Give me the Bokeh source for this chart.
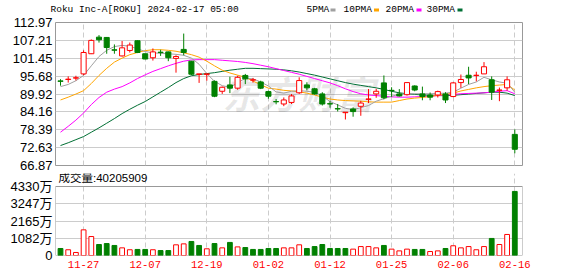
from bokeh.plotting import figure
from bokeh.layouts import column
from bokeh.models import ColumnDataSource, FixedTicker, Range1d
from bokeh.core.properties import value
from bokeh.embed import file_html
from bokeh.resources import INLINE

# ---------------- data ----------------
dates = ["11-21", "11-22", "11-24", "11-27", "11-28", "11-29", "11-30", "12-01", "12-04", "12-05",
         "12-06", "12-07", "12-08", "12-11", "12-12", "12-13", "12-14", "12-15", "12-18", "12-19",
         "12-20", "12-21", "12-22", "12-26", "12-27", "12-28", "12-29", "01-02", "01-03", "01-04",
         "01-05", "01-08", "01-09", "01-10", "01-11", "01-12", "01-16", "01-17", "01-18", "01-19",
         "01-22", "01-23", "01-24", "01-25", "01-26", "01-29", "01-30", "01-31", "02-01", "02-02",
         "02-05", "02-06", "02-07", "02-08", "02-09", "02-12", "02-13", "02-14", "02-15", "02-16"]

open_ = [94.15, 94.6, 95.05, 96.4, 102.9, 108.25, 108.15, 104.15, 102.2, 103.95,
         107.1, 102.9, 101.6, 103.4, 103.5, 101.4, 104.3, 100.5, 96.25, 96.25,
         94.0, 90.8, 92.85, 91.8, 95.9, 94.4, 93.8, 90.7, 87.5, 86.7,
         87.2, 90.3, 92.85, 91.6, 89.95, 86.8, 85.2, 83.9, 85.1, 85.95,
         88.2, 89.95, 93.5, 91.1, 89.95, 89.7, 92.5, 89.95, 89.6, 89.6,
         89.95, 89.1, 93.6, 95.96, 95.9, 96.4, 94.5, 91.1, 91.9, 76.9]
high = [94.7, 95.6, 95.8, 104.0, 107.5, 108.9, 108.3, 105.9, 107.0, 106.5,
        107.2, 102.9, 104.6, 104.2, 103.6, 102.4, 109.4, 100.6, 96.4, 96.4,
        94.3, 92.3, 95.5, 95.8, 96.4, 95.1, 94.2, 91.0, 88.3, 88.8,
        89.9, 95.3, 93.7, 91.9, 90.5, 87.6, 86.7, 84.05, 85.6, 87.7,
        91.5, 91.6, 95.9, 92.1, 91.5, 93.6, 92.7, 92.3, 90.4, 91.0,
        90.5, 93.7, 96.2, 98.7, 97.1, 100.2, 95.6, 92.0, 95.6, 78.5]
low = [92.6, 93.6, 94.3, 96.0, 102.8, 106.5, 102.9, 102.9, 102.0, 103.3,
       103.1, 101.1, 100.7, 102.2, 100.5, 96.8, 102.4, 96.0, 93.5, 94.2,
       88.9, 89.95, 90.2, 91.3, 93.1, 93.6, 91.5, 88.4, 86.6, 86.0,
       86.7, 89.95, 91.1, 89.7, 86.2, 85.5, 84.3, 81.7, 82.6, 82.9,
       87.0, 88.7, 88.2, 89.0, 89.1, 89.4, 90.8, 87.9, 87.9, 88.8,
       87.0, 88.9, 91.9, 93.1, 94.0, 96.4, 88.0, 87.6, 91.0, 70.8]
close = [94.0, 94.7, 95.15, 103.3, 107.2, 107.4, 104.9, 104.05, 104.8, 105.7,
         103.3, 101.2, 103.5, 103.3, 101.6, 102.0, 103.3, 96.3, 96.4, 96.4,
         89.2, 92.1, 91.8, 95.3, 94.8, 94.5, 91.8, 89.2, 87.4, 88.0,
         89.3, 94.25, 91.9, 89.95, 86.7, 86.7, 85.1, 84.05, 84.25, 87.0,
         88.3, 90.8, 88.7, 91.0, 89.3, 93.6, 91.2, 89.1, 88.9, 90.7,
         88.0, 93.5, 94.6, 95.1, 95.96, 98.7, 90.5, 91.2, 94.5, 72.1]

ma5 = [92.3, 93.0, 94.2, 95.9, 99.0, 102.0, 104.0, 105.2, 105.6, 105.3,
       104.5, 103.6, 103.2, 103.0, 102.9, 102.7, 102.4, 101.5, 99.5, 96.5,
       94.0, 92.6, 92.1, 93.5, 95.0, 94.8, 93.8, 92.5, 90.6, 90.2,
       90.8, 91.0, 90.8, 90.5, 89.3, 87.5, 86.4, 85.3, 84.9, 85.5,
       86.2, 87.6, 88.4, 89.2, 89.8, 90.0, 90.0, 90.0, 90.0, 90.1,
       90.2, 90.5, 91.8, 93.0, 93.8, 95.3, 94.5, 93.8, 93.4, 90.5]
ma10 = [88.0, 88.9, 89.9, 91.0, 93.3, 95.9, 98.2, 100.2, 101.5, 102.6,
        103.3, 103.9, 104.2, 104.2, 104.0, 103.7, 103.2, 102.6, 101.8, 100.5,
        99.0, 97.6, 96.7, 96.0, 95.3, 94.1, 92.9, 91.8, 91.5, 91.1,
        90.9, 90.6, 90.2, 89.6, 88.9, 88.3, 88.0, 87.8, 87.7, 87.6,
        87.4, 87.3, 87.3, 87.3, 87.8, 88.3, 88.6, 88.8, 89.1, 89.5,
        89.8, 90.2, 90.9, 91.4, 91.9, 92.3, 92.6, 92.8, 93.0, 91.2]
ma20 = [77.6, 79.5, 81.5, 83.8, 86.5, 88.8, 90.5, 91.5, 92.3, 93.5,
        94.9, 96.1, 97.2, 98.1, 99.0, 99.8, 100.5, 100.9, 101.0, 101.0,
        101.0, 100.8, 100.6, 100.4, 100.1, 99.7, 99.2, 98.7, 98.1, 97.5,
        96.9, 96.3, 95.6, 94.9, 94.2, 93.5, 92.6, 91.6, 90.7, 90.0,
        89.6, 89.4, 89.2, 89.0, 88.9, 88.9, 89.0, 89.1, 89.2, 89.4,
        89.6, 89.8, 90.0, 90.1, 90.2, 90.3, 90.5, 90.8, 91.0, 90.0]
ma30 = [73.3, 74.2, 75.2, 76.2, 77.6, 79.0, 80.5, 82.0, 83.6, 85.0,
        86.3, 87.5, 89.0, 90.5, 92.0, 93.6, 94.9, 95.8, 96.2, 96.5,
        96.8, 97.2, 97.6, 97.9, 98.2, 98.2, 98.1, 98.0, 97.9, 97.7,
        97.4, 97.0, 96.5, 96.0, 95.4, 94.8, 94.2, 93.6, 93.1, 92.7,
        92.3, 91.9, 91.4, 90.8, 90.3, 90.0, 89.8, 89.6, 89.5, 89.4,
        89.4, 89.5, 89.7, 89.9, 90.1, 90.3, 90.5, 90.5, 90.2, 89.4]

# volume in units of 万 (10,000 shares)
volume = [440, 360, 190, 1610, 1190, 690, 750, 630, 480, 360,
          380, 380, 360, 310, 310, 670, 730, 880, 630, 420,
          750, 480, 820, 540, 500, 380, 380, 440, 440, 480,
          480, 670, 440, 560, 690, 440, 440, 440, 400, 560,
          560, 480, 630, 400, 290, 400, 380, 380, 250, 290,
          440, 610, 480, 560, 360, 560, 1070, 690, 1320, 4020.5909]
vol_up = [0, 1, 1, 1, 1, 0, 0, 0, 1, 1,
          0, 0, 1, 0, 0, 1, 1, 0, 0, 1,
          0, 1, 0, 1, 0, 0, 0, 0, 0, 1,
          1, 1, 0, 0, 0, 0, 0, 0, 1, 1,
          1, 1, 0, 1, 1, 1, 0, 0, 1, 1,
          0, 1, 1, 1, 1, 1, 0, 1, 1, 0]

price_ticks = [66.87, 72.63, 78.39, 84.16, 89.92, 95.68, 101.45, 107.21, 112.97]
vol_ticks = [0, 1082, 2165, 3247, 4330]
vol_tick_labels = ["0", "1082万", "2165万", "3247万", "4330万"]
date_tick_idx = [3, 11, 19, 27, 35, 43, 51, 59]

title_text = "Roku Inc-A[ROKU] 2024-02-17 05:00"
vol_text = "成交量:40205909"
ma_names = ["5PMA", "10PMA", "20PMA", "30PMA"]
ma_colors = ["#a0a0a0", "#ffa500", "#ff00ff", "#006f34"]

# ---------------- styling / layout ----------------
RED = "#ff0000"
GREEN = "#008000"
GRID = "#cccccc"
BORDER = "#999999"
MONO = "Liberation Mono"
SANS = "Liberation Sans, Noto Sans CJK SC"
W = 578
H0, H1, H2 = 15, 158, 103            # header strip, price panel, volume panel
PX_PER_BAR = 7.7

n = len(close)
xs = list(range(n))
up = [c >= o for o, c in zip(open_, close)]
src = ColumnDataSource(dict(
    x=xs, high=high, low=low,
    top=[max(o, c) for o, c in zip(open_, close)],
    bottom=[min(o, c) for o, c in zip(open_, close)],
    line=[RED if u else GREEN for u in up],
    fill=["#ffffff" if u else GREEN for u in up],
))
vsrc = ColumnDataSource(dict(
    x=xs, v=volume,
    line=[RED if u else GREEN for u in vol_up],
    fill=["#ffffff" if u else GREEN for u in vol_up],
))

xr = Range1d(-0.65, 60.0)

# ---------------- header strip (title + MA legend) ----------------
p0 = figure(width=W, height=H0, x_range=Range1d(0, W), y_range=Range1d(H0, 0),
            output_backend="svg", toolbar_location=None,
            x_axis_location=None, y_axis_location=None,
            min_border_left=0, min_border_right=0, min_border_top=0, min_border_bottom=0)
p0.outline_line_color = None
p0.grid.visible = False
p0.text(x=[50], y=[8.8], text=[title_text], text_font=value(MONO), text_font_size="9.5px",
        text_color="#000000", text_baseline="middle", text_align="left")
leg_x = [306, 343, 385, 426]
sq_x = [332.5, 376, 418.5, 459.5]
p0.text(x=leg_x, y=[8.8] * 4, text=ma_names, text_font=value(MONO), text_font_size="9.5px",
        text_color="#000000", text_baseline="middle", text_align="left")
p0.rect(x=sq_x, y=[9.5] * 4, width=5, height=3, fill_color=ma_colors, line_color=None)

# ---------------- price panel ----------------
YLO, YHI = 66.87, 112.97
p1 = figure(width=W, height=H1, x_range=xr, y_range=Range1d(YLO, YHI),
            output_backend="svg", toolbar_location=None,
            min_border_left=55, min_border_right=56, min_border_top=7, min_border_bottom=H1 - 150)
p1.xaxis.visible = False
p1.outline_line_color = BORDER
p1.outline_line_width = 1

p1.yaxis.ticker = FixedTicker(ticks=price_ticks)
p1.yaxis.major_label_overrides = {t: f"{t:.2f}" for t in price_ticks}
for ax in p1.yaxis:
    ax.axis_line_color = None
    ax.major_tick_line_color = None
    ax.minor_tick_line_color = None
    ax.major_tick_out = 0
    ax.major_tick_in = 0
    ax.major_label_standoff = 3
    ax.major_label_text_font = SANS
    ax.major_label_text_font_size = "13px"
    ax.major_label_text_color = "#000000"

p1.ygrid.ticker = FixedTicker(ticks=price_ticks)
p1.ygrid.grid_line_color = GRID
p1.xgrid.ticker = FixedTicker(ticks=date_tick_idx)
p1.xgrid.grid_line_color = GRID
p1.xgrid.grid_line_dash = "5 3"

# watermark
p1.text(x=[21.0], y=[90.3], text=["东方财富"], text_font=value("Noto Sans CJK SC"),
        text_font_size="38px", text_font_style="bold italic", text_color="#000000",
        text_alpha=0.09, text_baseline="middle", text_align="left")

for vals, col in zip([ma30, ma20, ma10, ma5], [ma_colors[3], ma_colors[2], ma_colors[1], ma_colors[0]]):
    p1.line(xs, vals, line_color=col, line_width=1)

p1.segment(x0="x", y0="high", x1="x", y1="low", line_color="line", line_width=1, source=src)
p1.vbar(x="x", top="top", bottom="bottom", width=0.66, fill_color="fill", line_color="line",
        line_width=1, source=src)

# ---------------- volume panel (frame extended upward to hold the caption) ----------------
VTOP = 4330
frame_top_px = H0 + H1        # page y of the top of this frame
frame_h = 255 - frame_top_px
vol_px = 255 - 186
VMAX = VTOP * frame_h / vol_px
p2 = figure(width=W, height=H2, x_range=xr, y_range=Range1d(0, VMAX),
            output_backend="svg", toolbar_location=None,
            min_border_left=55, min_border_right=56, min_border_top=0, min_border_bottom=21)
p2.outline_line_color = None
p2.yaxis.ticker = FixedTicker(ticks=vol_ticks)
p2.yaxis.major_label_overrides = {t: l for t, l in zip(vol_ticks, vol_tick_labels)}
p2.xaxis.ticker = FixedTicker(ticks=date_tick_idx)
p2.xaxis.major_label_overrides = {i: dates[i] for i in date_tick_idx}
for ax in list(p2.yaxis) + list(p2.xaxis):
    ax.axis_line_color = None
    ax.major_tick_line_color = None
    ax.minor_tick_line_color = None
    ax.major_tick_out = 0
    ax.major_tick_in = 0
for ax in p2.yaxis:
    ax.major_label_standoff = 3
    ax.major_label_text_font = SANS
    ax.major_label_text_font_size = "13px"
    ax.major_label_text_color = "#000000"
for ax in p2.xaxis:
    ax.major_label_standoff = 5
    ax.major_label_text_font = MONO
    ax.major_label_text_font_size = "10.5px"
    ax.major_label_text_color = RED

p2.ygrid.ticker = FixedTicker(ticks=vol_ticks)
p2.ygrid.grid_line_color = GRID
p2.xgrid.ticker = FixedTicker(ticks=date_tick_idx)
p2.xgrid.grid_line_color = GRID
p2.xgrid.grid_line_dash = "5 3"

p2.quad(left=[xr.start], right=[xr.end], bottom=[0], top=[VTOP], fill_color=None,
        line_color=BORDER, line_width=1)
p2.vbar(x="x", top="v", bottom=0, width=0.62, fill_color="fill", line_color="line",
        line_width=1, source=vsrc)
cap_y = VTOP * (255 - 177.8) / vol_px
p2.text(x=[xr.start + 3 / PX_PER_BAR], y=[cap_y], text=[vol_text], text_font=value(SANS),
        text_font_size="11.5px", text_color="#000000", text_baseline="middle", text_align="left")

layout = column(p0, column(p1, p2, spacing=0), spacing=0)
open("out.html", "w").write(file_html(layout, INLINE))
